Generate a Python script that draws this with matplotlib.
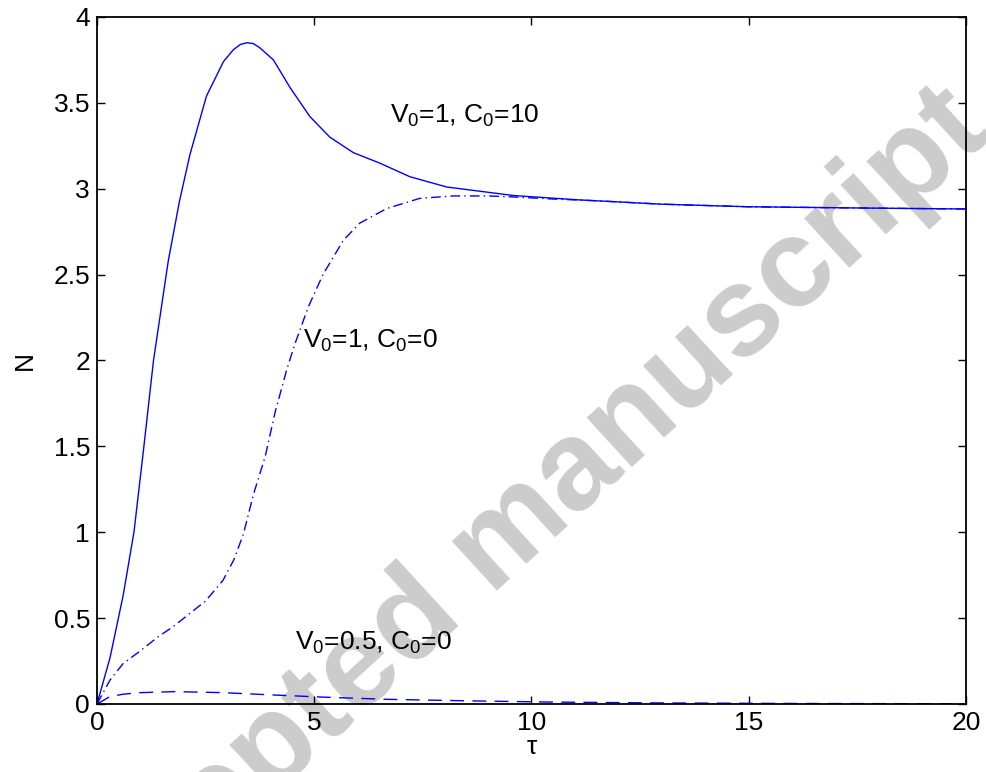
import matplotlib
matplotlib.use("Agg")
import matplotlib.pyplot as plt

plt.rcParams['font.family'] = ['Liberation Sans', 'DejaVu Sans']
plt.rcParams['mathtext.fontset'] = 'custom'
plt.rcParams['mathtext.rm'] = 'Liberation Sans'
plt.rcParams['mathtext.it'] = 'Liberation Sans'
plt.rcParams['mathtext.bf'] = 'Liberation Sans:bold'

# V0=1, C0=10 (solid)
tau_a = [0, 0.3, 0.6, 0.85, 1.07, 1.3, 1.64, 1.9, 2.14, 2.52, 2.91, 3.14, 3.3, 3.45,
         3.6, 3.75, 4.06, 4.44, 4.9, 5.36, 5.9, 6.5, 7.2, 8.05, 9.6, 11.1, 13, 15, 17.5, 20]
n_a = [0, 0.27, 0.63, 1.0, 1.48, 2.0, 2.58, 2.93, 3.2, 3.54, 3.74, 3.81, 3.84, 3.85,
       3.845, 3.82, 3.75, 3.59, 3.42, 3.30, 3.21, 3.15, 3.07, 3.01, 2.96, 2.935, 2.91, 2.895, 2.888, 2.882]

# V0=1, C0=0 (dash-dot)
tau_b = [0, 0.3, 0.6, 1.0, 1.4, 1.75, 2.15, 2.5, 2.9, 3.15, 3.37, 3.6, 3.87, 4.1, 4.37,
         4.56, 4.86, 5.2, 5.67, 6.05, 6.67, 7.43, 8.2, 9.0, 9.6, 10.5, 11.5, 13, 15, 17.5, 20]
n_b = [0, 0.14, 0.235, 0.31, 0.39, 0.45, 0.53, 0.6, 0.72, 0.84, 0.99, 1.22, 1.44, 1.70, 1.95,
       2.1, 2.31, 2.5, 2.7, 2.8, 2.885, 2.944, 2.958, 2.958, 2.952, 2.94, 2.93, 2.91, 2.895, 2.888, 2.882]

# V0=0.5, C0=0 (dashed)
tau_c = [0, 0.3, 0.6, 1.0, 1.8, 2.9, 4.0, 5.2, 6.7, 8.6, 10.5, 13, 16, 20]
n_c = [0, 0.043, 0.057, 0.066, 0.072, 0.066, 0.053, 0.04, 0.027, 0.018, 0.011, 0.006, 0.003, 0.001]

labels = [r'V$_0$=1, C$_0$=10', r'V$_0$=1, C$_0$=0', r'V$_0$=0.5, C$_0$=0']

fig = plt.figure(figsize=(9.87, 7.72), dpi=100)
ax = fig.add_axes([0.0983, 0.0881, 0.8804, 0.8899])
ax.set_facecolor('none')

# watermark behind everything
fig.text(0.527, 0.262, 'Accepted manuscript', fontsize=91, fontweight='bold',
         color='#cccccc', rotation=42.5, rotation_mode='anchor', ha='center', va='baseline',
         zorder=-1)

blue = '#0000ff'
ax.plot(tau_a, n_a, color=blue, lw=1.0, linestyle='-')
ax.plot(tau_b, n_b, color=blue, lw=1.0, linestyle=(0, (7, 3, 1, 3)))
ax.plot(tau_c, n_c, color=blue, lw=1.0, linestyle=(0, (10, 6)))

ax.text(6.74, 3.381, labels[0], fontsize=19)
ax.text(4.75, 2.071, labels[1], fontsize=19)
ax.text(4.56, 0.314, labels[2], fontsize=19)

ax.set_xlim(0, 20)
ax.set_ylim(0, 4)
ax.set_xticks([0, 5, 10, 15, 20])
ax.set_yticks([0, 0.5, 1, 1.5, 2, 2.5, 3, 3.5, 4])
ax.set_yticklabels(['0', '0.5', '1', '1.5', '2', '2.5', '3', '3.5', '4'])
ax.tick_params(direction='in', length=6, width=1.0, labelsize=19, pad=5,
               top=True, right=True)
for s in ax.spines.values():
    s.set_linewidth(1.3)

ax.set_xlabel('τ', fontsize=19, labelpad=0)
ax.set_ylabel('N', fontsize=19, labelpad=12)

fig.savefig('out.png', dpi=100)
